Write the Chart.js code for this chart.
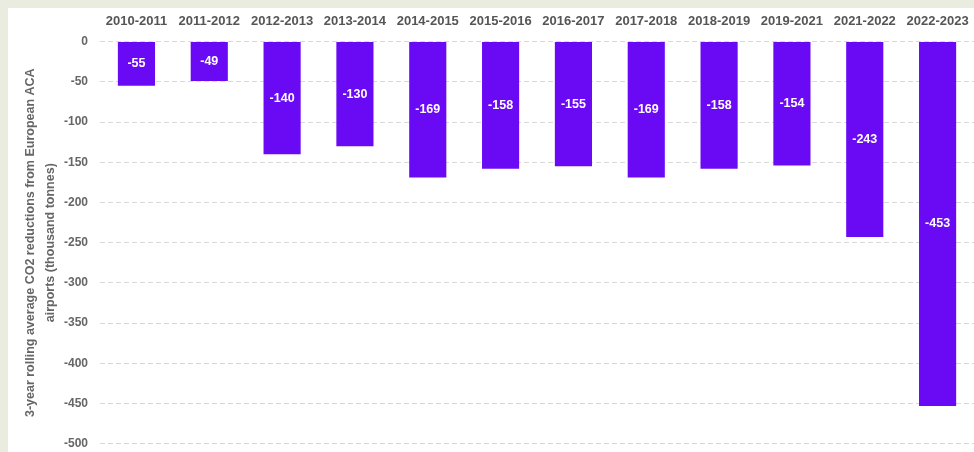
<!DOCTYPE html>
<html>
<head>
<meta charset="utf-8">
<script src="https://cdn.jsdelivr.net/npm/chart.js@4/dist/chart.umd.min.js"></script>
<style>
  html, body { margin: 0; padding: 0; background: #e9ecdf; overflow: hidden; width: 974px; height: 452px; }
  #panel { position: absolute; left: 8px; top: 8px; width: 966px; height: 444px; background: #ffffff; }
  #chart { position: absolute; left: 8px; top: 0; display: block; }
</style>
</head>
<body>
<div id="panel"></div>
<canvas id="chart" width="966" height="463"></canvas>
<script>
const periods = ['2010-2011', '2011-2012', '2012-2013', '2013-2014', '2014-2015', '2015-2016',
  '2016-2017', '2017-2018', '2018-2019', '2019-2021', '2021-2022', '2022-2023'];
const reductions = [-55, -49, -140, -130, -169, -158, -155, -169, -158, -154, -243, -453];
const yTitle = ['3-year rolling average CO2 reductions from European ACA', 'airports (thousand tonnes)'];

const fontFamily = '"Liberation Sans", Arial, sans-serif';

// white value labels in the middle of each bar
const barLabels = {
  id: 'barLabels',
  afterDatasetsDraw(chart) {
    const ctx = chart.ctx;
    const meta = chart.getDatasetMeta(0);
    ctx.save();
    ctx.fillStyle = '#ffffff';
    ctx.font = 'bold 12.5px ' + fontFamily;
    ctx.textAlign = 'center';
    ctx.textBaseline = 'middle';
    meta.data.forEach((bar, i) => {
      const p = bar.getProps(['x', 'y', 'base'], true);
      ctx.fillText(String(reductions[i]), p.x, (p.y + p.base) / 2);
    });
    ctx.restore();
  }
};

new Chart(document.getElementById('chart'), {
  type: 'bar',
  data: {
    labels: periods,
    datasets: [{
      data: reductions,
      backgroundColor: '#6a0af5',
      barPercentage: 0.51,
      categoryPercentage: 1
    }]
  },
  options: {
    responsive: false,
    animation: false,
    layout: { padding: { left: 13, right: 0, top: 10, bottom: 0 } },
    plugins: { legend: { display: false }, tooltip: { enabled: false } },
    scales: {
      x: {
        position: 'top',
        grid: { display: false },
        border: { display: false },
        ticks: { color: '#555', padding: 4, font: { family: fontFamily, size: 13, weight: 'bold' } }
      },
      y: {
        min: -500,
        max: 0,
        ticks: { stepSize: 50, color: '#666', padding: 12, font: { family: fontFamily, size: 12, weight: 'bold' } },
        grid: { color: '#d9d9d9', drawTicks: false },
        border: { display: false, dash: [5, 3] },
        title: {
          display: true,
          text: yTitle,
          color: '#666',
          padding: { top: 0, bottom: -9 },
          font: { family: fontFamily, size: 12.5, weight: 'bold', lineHeight: 1.6 }
        }
      }
    }
  },
  plugins: [barLabels]
});
</script>
</body>
</html>
